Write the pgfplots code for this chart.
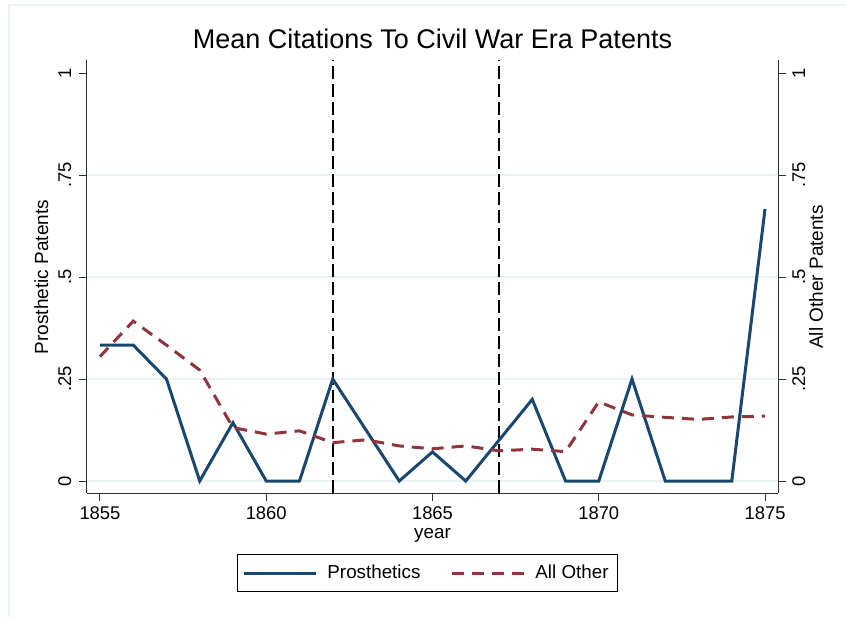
\documentclass[border=0pt]{standalone}
\usepackage{pgfplots}
\usepackage{pgfplotstable}
\pgfplotsset{compat=1.18}
\usepackage{fontspec}
\setmainfont{Liberation Sans}
\definecolor{snavy}{HTML}{1A476F}
\definecolor{smaroon}{HTML}{90353B}
\definecolor{sgrid}{HTML}{EAF2F3}
\definecolor{saxis}{HTML}{303030}

\pgfplotstableread{
year pros other
1855 0.3333 0.305
1856 0.3333 0.392
1857 0.25 0.333
1858 0 0.272
1859 0.1429 0.131
1860 0 0.115
1861 0 0.123
1862 0.25 0.094
1863 0.125 0.101
1864 0 0.086
1865 0.0714 0.079
1866 0 0.086
1867 0.1 0.074
1868 0.2 0.078
1869 0 0.072
1870 0 0.194
1871 0.25 0.162
1872 0 0.156
1873 0 0.151
1874 0 0.157
1875 0.6667 0.159
}\datatable

\begin{document}
\begin{tikzpicture}
\path[use as bounding box] (-43.5pt,-61.5pt) rectangle (379.5pt,246.5pt);
\draw[sgrid, line width=0.6pt] (-39pt,-70pt) -- (-39pt,244pt) -- (390pt,244pt);
\begin{axis}[
  scale only axis, width=345.5pt, height=216.5pt,
  xmin=1854.61, xmax=1875.39, ymin=-0.0294, ymax=1.032,
  axis x line*=bottom, axis y line*=left,
  axis line style={saxis, line width=0.5pt},
  every tick/.style={saxis, line width=0.5pt},
  tick align=outside, major tick length=4pt,
  xtick={1855,1860,1865,1870,1875},
  xticklabels={1855,1860,1865,1870,1875},
  ytick={0,0.25,0.5,0.75},
  yticklabels={0,.25,.5,.75},
  extra y ticks={1}, extra y tick labels={1},
  extra y tick style={grid=none},
  ymajorgrids, major grid style={sgrid, line width=0.75pt},
  ticklabel style={font=\fontsize{9.2}{11}\selectfont},
  yticklabel style={xshift=-4pt, rotate=90, anchor=base, inner sep=0pt},
  xticklabel style={anchor=base, inner sep=0pt, yshift=-9pt},
  xlabel={year},
  every axis x label/.style={at={(axis description cs:0.5,-0.1062)}, anchor=base, font=\fontsize{9.4}{11}\selectfont},
  ylabel={Prosthetic Patents},
  every axis y label/.style={at={(axis description cs:-0.0564,0.4988)}, anchor=base, rotate=90, font=\fontsize{9.5}{11}\selectfont},
  legend columns=2,
  legend style={at={(axis description cs:0.4928,-0.1848)}, anchor=center, draw=black, line width=0.5pt,
    font=\fontsize{9.4}{11}\selectfont, inner xsep=2.5pt, inner ysep=3pt,
    /tikz/every odd column/.append style={column sep=3pt},
    /tikz/every even column/.append style={column sep=13pt}},
  legend image code/.code={\draw[#1] (0pt,0pt) -- (36pt,0pt);},
  clip=false,
]
\addplot[black, line width=1pt, dash pattern=on 6.5pt off 2.5pt, forget plot] coordinates {(1862,-0.0294) (1862,1.032)};
\addplot[black, line width=1pt, dash pattern=on 6.5pt off 2.5pt, forget plot] coordinates {(1867,-0.0294) (1867,1.032)};
\addplot[snavy, line width=1.5pt] table[x=year, y=pros] {\datatable};
\addlegendentry{Prosthetics}
\addplot[smaroon, line width=1.5pt, dash pattern=on 6pt off 4pt] table[x=year, y=other] {\datatable};
\addlegendentry{All Other}
\end{axis}
\begin{axis}[
  scale only axis, width=345.5pt, height=216.5pt,
  xmin=1854.61, xmax=1875.39, ymin=-0.0294, ymax=1.032,
  axis x line=none, axis y line*=right,
  axis line style={saxis, line width=0.5pt},
  every tick/.style={saxis, line width=0.5pt},
  tick align=outside, major tick length=4pt,
  ytick={0,0.25,0.5,0.75,1},
  yticklabels={0,.25,.5,.75,1},
  ticklabel style={font=\fontsize{9.2}{11}\selectfont},
  yticklabel style={xshift=9.5pt, rotate=90, anchor=base, inner sep=0pt},
  ylabel={All Other Patents},
  every axis y label/.style={at={(axis description cs:1.0651,0.4988)}, anchor=base, rotate=90, font=\fontsize{9.5}{11}\selectfont},
]
\end{axis}
\node[anchor=base, font=\fontsize{13.5}{16}\selectfont] at (172.75pt,222pt) {Mean Citations To Civil War Era Patents};
\end{tikzpicture}
\end{document}
